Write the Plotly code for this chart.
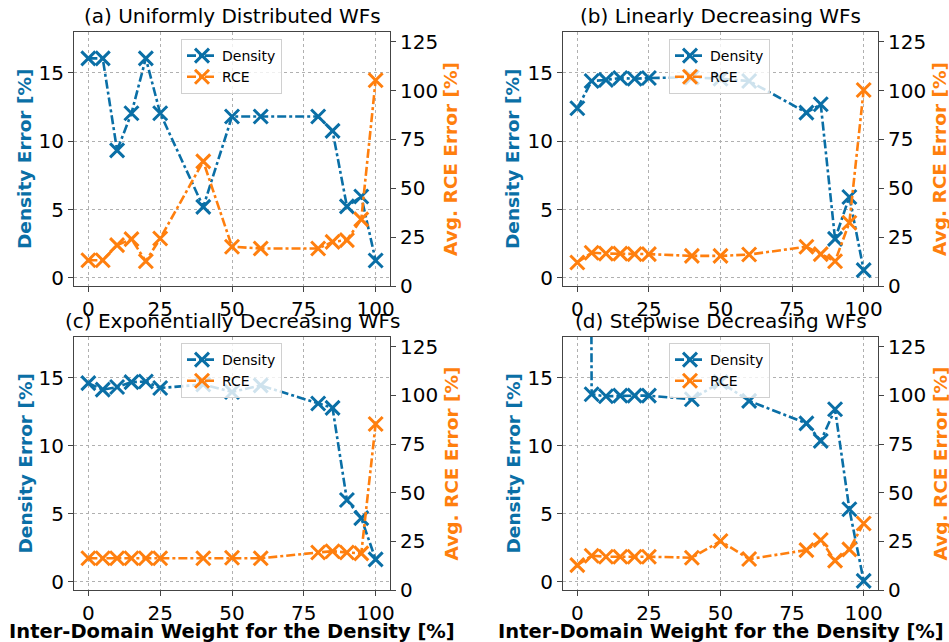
import plotly.graph_objects as go

weights = [0, 5, 10, 15, 20, 25, 40, 50, 60, 80, 85, 90, 95, 100]

titles = ["(a) Uniformly Distributed WFs", "(b) Linearly Decreasing WFs",
          "(c) Exponentially Decreasing WFs", "(d) Stepwise Decreasing WFs"]

density_a = [16.07, 16.07, 9.33, 12.05, 16.07, 12.05, 5.19, 11.81, 11.81, 11.81, 10.76, 5.23, 5.95, 1.27]
rce_a = [13.2, 13.2, 20.9, 24.0, 12.7, 24.3, 63.8, 20.1, 19.2, 19.2, 22.6, 23.5, 34.1, 105.3]

density_b = [12.42, 14.41, 14.49, 14.63, 14.58, 14.63, 14.68, 14.58, 14.41, 12.10, 12.71, 2.85, 5.92, 0.56]
rce_b = [12.0, 17.0, 16.6, 16.6, 16.3, 16.3, 15.4, 15.4, 16.1, 20.1, 16.3, 12.7, 32.4, 100.3]

density_c = [14.61, 14.13, 14.32, 14.68, 14.73, 14.25, 14.51, 13.96, 14.44, 13.11, 12.79, 6.02, 4.68, 1.65]
rce_c = [16.3, 16.3, 16.3, 16.3, 16.3, 16.3, 16.3, 16.6, 16.3, 19.3, 19.9, 19.3, 18.8, 85.3]

density_d = [300.0, 13.79, 13.64, 13.69, 13.69, 13.69, 13.42, 14.68, 13.30, 11.65, 10.36, 12.69, 5.34, 0.07]
rce_d = [12.8, 17.6, 17.1, 17.1, 17.1, 17.1, 16.6, 25.2, 15.9, 20.5, 25.7, 15.1, 20.9, 34.2]

density_all = [density_a, density_b, density_c, density_d]
rce_all = [rce_a, rce_b, rce_c, rce_d]

x_ticks = [0, 25, 50, 75, 100]
left_ticks = [0, 5, 10, 15]
right_ticks = [0, 25, 50, 75, 100, 125]

x_label = "Inter-Domain Weight for the Density [%]"
left_label = "Density Error [%]"
right_label = "Avg. RCE Error [%]"

BLUE = "#0a6fa6"
ORANGE = "#ff7f0e"
FONT = "DejaVu Sans"
W, H = 949, 642

# pixel boxes of each panel: (left, right, top, bottom)
boxes = [(74, 390, 32, 286), (563, 878, 32, 286), (74, 390, 337, 590), (563, 878, 337, 590)]
left_title_x = [25, 513, 25, 513]
right_title_x = [451, 940, 451, 940]

fig = go.Figure()
layout = dict(width=W, height=H, margin=dict(l=0, r=0, t=0, b=0, autoexpand=False),
              paper_bgcolor="white", plot_bgcolor="white",
              font=dict(family=FONT, size=19, color="black"), annotations=[])

for p in range(4):
    l, r, t, b = boxes[p]
    xd = [l / W, r / W]
    yd = [1 - b / H, 1 - t / H]
    xid = p + 1
    yl = 2 * p + 1
    yr = 2 * p + 2
    xname = "x" if xid == 1 else f"x{xid}"
    ylname = "y" if yl == 1 else f"y{yl}"
    yrname = f"y{yr}"
    legname = "legend" if p == 0 else f"legend{p + 1}"

    fig.add_trace(go.Scatter(
        x=weights, y=density_all[p], name="Density", mode="lines+markers",
        line=dict(color=BLUE, width=2.6, dash="dashdot"),
        marker=dict(symbol="x-thin", size=14, line=dict(color=BLUE, width=3)),
        xaxis=xname, yaxis=ylname, legend=legname))
    fig.add_trace(go.Scatter(
        x=weights, y=rce_all[p], name="RCE", mode="lines+markers",
        line=dict(color=ORANGE, width=2.6, dash="dashdot"),
        marker=dict(symbol="x-thin", size=14, line=dict(color=ORANGE, width=3)),
        xaxis=xname, yaxis=yrname, legend=legname))

    xkey = "xaxis" if xid == 1 else f"xaxis{xid}"
    ylkey = "yaxis" if yl == 1 else f"yaxis{yl}"
    yrkey = f"yaxis{yr}"

    common = dict(showline=True, linecolor="#444", linewidth=1.2,
                  ticks="outside", ticklen=5, tickcolor="#444", zeroline=False,
                  automargin=False, tickfont=dict(size=20, family=FONT, color="black"))

    layout[xkey] = dict(
        domain=xd, anchor=ylname, range=[-5, 105], tickvals=x_ticks,
        showgrid=True, gridcolor="#b0b0b0", griddash="dot", gridwidth=1,
        mirror=True, **common)
    layout[ylkey] = dict(
        domain=yd, anchor=xname, range=[-0.6, 18], tickvals=left_ticks,
        showgrid=True, gridcolor="#b0b0b0", griddash="dot", gridwidth=1, **common)
    layout[yrkey] = dict(
        domain=yd, anchor=xname, overlaying=ylname, side="right", range=[0, 130],
        tickvals=right_ticks, showgrid=False, **common)

    lx = (181 if p % 2 == 0 else 669) / W
    ly = 1 - ((39 if p < 2 else 343) / H)
    layout[legname] = dict(
        x=lx, y=ly, xanchor="left", yanchor="top",
        bgcolor="rgba(255,255,255,0.8)", bordercolor="#d0d0d0", borderwidth=1,
        font=dict(size=14, family=FONT), itemwidth=30, tracegroupgap=0)

    ann = layout["annotations"]
    ann.append(dict(
        text=titles[p], x=(l + r) / 2 / W, y=1 - (t - 2) / H, xref="paper", yref="paper",
        xanchor="center", yanchor="bottom", showarrow=False,
        font=dict(size=20, family=FONT, color="black")))
    yc = 1 - ((t + b) / 2) / H
    ann.append(dict(
        text=f"<b>{left_label}</b>", x=left_title_x[p] / W, y=yc, xref="paper", yref="paper",
        xanchor="center", yanchor="middle", textangle=-90, showarrow=False,
        font=dict(size=18.5, family=FONT, color=BLUE)))
    ann.append(dict(
        text=f"<b>{right_label}</b>", x=right_title_x[p] / W, y=yc, xref="paper", yref="paper",
        xanchor="center", yanchor="middle", textangle=-90, showarrow=False,
        font=dict(size=18.5, family=FONT, color=ORANGE)))
    if p >= 2:
        ann.append(dict(
            text=f"<b>{x_label}</b>", x=(l + r) / 2 / W, y=1 - 631 / H, xref="paper", yref="paper",
            xanchor="center", yanchor="middle", showarrow=False,
            font=dict(size=19.5, family=FONT, color="black")))

fig.update_layout(**layout)
fig.write_html("out.html", config={"displayModeBar": False},
               post_script="document.body.style.margin='0';document.body.style.overflow='hidden';")
